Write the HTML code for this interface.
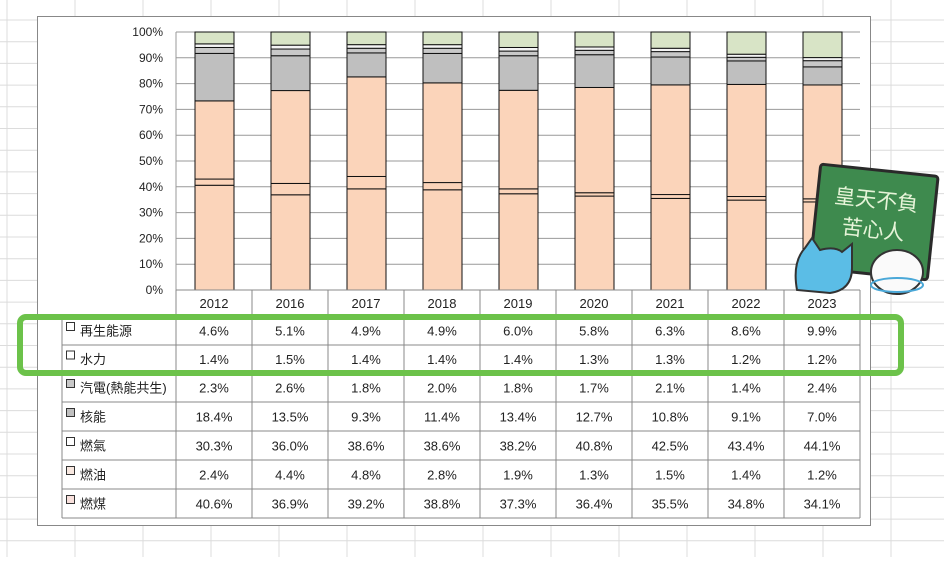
<!DOCTYPE html>
<html><head><meta charset="utf-8"><style>
body{margin:0;width:944px;height:557px;overflow:hidden;background:#fff;font-family:"Liberation Sans","Noto Sans CJK TC",sans-serif}
</style></head><body>
<svg id="s" width="944" height="557" xmlns="http://www.w3.org/2000/svg" font-family="Liberation Sans, Noto Sans CJK TC, sans-serif"></svg>
<script>
var s=document.getElementById('s'),h='';
for(var x=7;x<944;x+=68)h+='<line x1="'+x+'" y1="0" x2="'+x+'" y2="557" stroke="#dcdcdc"/>';
for(var y=20;y<557;y+=21.7)h+='<line x1="0" y1="'+y+'" x2="944" y2="'+y+'" stroke="#dcdcdc"/>';
h+='<rect x="37.5" y="16.5" width="833" height="509" fill="#fff" stroke="#888"/>';
var L=176,W=76,T=32,B=290,H=B-T;
for(var i=0;i<=10;i++){var yy=B-H*i/10;h+='<line x1="'+L+'" y1="'+yy+'" x2="'+(L+9*W)+'" y2="'+yy+'" stroke="#999"/>';
h+='<text x="163" y="'+(yy+4)+'" font-size="12" text-anchor="end" fill="#222">'+(i*10)+'%</text>';}
h+='<line x1="'+L+'" y1="'+T+'" x2="'+L+'" y2="'+B+'" stroke="#999"/>';
var yrs=['2012','2016','2017','2018','2019','2020','2021','2022','2023'];
var names=['再生能源','水力','汽電(熱能共生)','核能','燃氣','燃油','燃煤'];
var d=[[4.6,5.1,4.9,4.9,6.0,5.8,6.3,8.6,9.9],[1.4,1.5,1.4,1.4,1.4,1.3,1.3,1.2,1.2],[2.3,2.6,1.8,2.0,1.8,1.7,2.1,1.4,2.4],[18.4,13.5,9.3,11.4,13.4,12.7,10.8,9.1,7.0],[30.3,36.0,38.6,38.6,38.2,40.8,42.5,43.4,44.1],[2.4,4.4,4.8,2.8,1.9,1.3,1.5,1.4,1.2],[40.6,36.9,39.2,38.8,37.3,36.4,35.5,34.8,34.1]];
var cols=['#d8e4c6','#f4f4f4','#c8c8c8','#bfbfbf','#fbd4ba','#fbd4ba','#fbd4ba'];
var lc=['#fff','#fff','#c8c8c8','#bfbfbf','#fff','#f8e8e0','#f8e0dc'];
for(var j=0;j<9;j++){var tot=0;for(var k=0;k<7;k++)tot+=d[k][j];var acc=0,bx=L+j*W+19;
 for(var k=6;k>=0;k--){var v=d[k][j]/tot*100;var y1=B-H*(acc+v)/100,y0=B-H*acc/100;acc+=v;
 h+='<rect x="'+bx+'" y="'+y1+'" width="39" height="'+(y0-y1)+'" fill="'+cols[k]+'" stroke="#111" stroke-width="1"/>';}}
var R=[290,316,345,373,402,431,460,489,518];
h+='<line x1="'+L+'" y1="'+B+'" x2="'+(L+9*W)+'" y2="'+B+'" stroke="#888"/>';
for(var j=0;j<=9;j++){var xx=L+j*W;h+='<line x1="'+xx+'" y1="290" x2="'+xx+'" y2="518" stroke="#888"/>';}
h+='<line x1="62" y1="316" x2="62" y2="518" stroke="#888"/>';
for(var r=1;r<R.length;r++)h+='<line x1="62" y1="'+R[r]+'" x2="'+(L+9*W)+'" y2="'+R[r]+'" stroke="#888"/>';
for(var j=0;j<9;j++)h+='<text x="'+(L+j*W+38)+'" y="308" font-size="13" text-anchor="middle" fill="#222">'+yrs[j]+'</text>';
for(var k=0;k<7;k++){var yc=(R[k+1]+R[k+2])/2;
 h+='<rect x="66.5" y="'+(yc-8)+'" width="8" height="8" fill="'+lc[k]+'" stroke="#333"/>';
 h+='<text x="80" y="'+(yc+5)+'" font-size="13" fill="#222">'+names[k]+'</text>';
 for(var j=0;j<9;j++)h+='<text x="'+(L+j*W+38)+'" y="'+(yc+5)+'" font-size="13" text-anchor="middle" fill="#222">'+d[k][j].toFixed(1)+'%</text>';}
h+='<rect x="20" y="317" width="881" height="56" rx="6" fill="none" stroke="#6cc24a" stroke-width="6"/>';
// sticker
h+='<g transform="rotate(6 874 222)"><rect x="815" y="170" width="118" height="104" rx="3" fill="#3e8a4e" stroke="#2a2a2a" stroke-width="3"/>';
h+='<text x="874" y="207" font-size="21" text-anchor="middle" fill="#e6f4d8">皇天不負</text><text x="874" y="237" font-size="21" text-anchor="middle" fill="#e6f4d8">苦心人</text></g>';
h+='<path d="M797 290 Q792 262 805 248 L812 238 L820 250 Q835 246 842 252 L852 244 L852 268 Q852 290 830 293 Z" fill="#5bbde6" stroke="#333" stroke-width="2"/>';
h+='<ellipse cx="897" cy="272" rx="26" ry="22" fill="#fafafa" stroke="#333" stroke-width="2"/>';
h+='<ellipse cx="897" cy="285" rx="26" ry="7" fill="none" stroke="#4aa8d8" stroke-width="2"/>';
s.innerHTML=h;
</script>
</body></html>
